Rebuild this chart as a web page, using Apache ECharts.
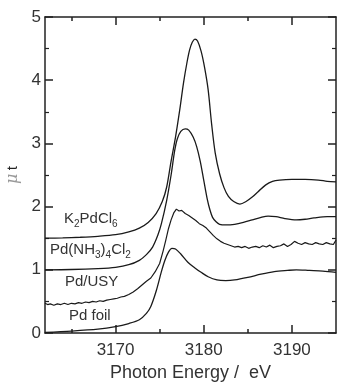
<!DOCTYPE html>
<html>
<head>
<meta charset="utf-8">
<script src="https://cdn.jsdelivr.net/npm/echarts@6/dist/echarts.min.js"></script>
<style>
html,body{margin:0;padding:0;background:#fff;}
#chart{width:337px;height:382px;}
</style>
</head>
<body>
<div id="chart"></div>
<script>
// ---- data (photon energy in eV, absorbance mu*t) ----
const xTitle = 'Photon Energy /  eV';
const xMajorTicks = [3170, 3180, 3190];
const xMinorTicks = [3165, 3175, 3185];

const k2pdcl6 = [
  [3162,1.50],[3164,1.505],[3166,1.515],[3168,1.53],[3170,1.555],[3171.5,1.60],[3172.7,1.66],
  [3173.7,1.75],[3174.6,1.89],[3175.3,2.08],[3175.8,2.31],[3176.3,2.72],[3176.8,3.10],
  [3177.3,3.55],[3177.7,3.95],[3178.1,4.28],[3178.4,4.48],[3178.7,4.60],[3179.0,4.65],
  [3179.3,4.62],[3179.7,4.46],[3180.1,4.20],[3180.5,3.85],[3180.9,3.30],[3181.3,2.85],
  [3181.8,2.52],[3182.3,2.30],[3182.8,2.16],[3183.4,2.08],[3184.1,2.04],[3184.8,2.08],
  [3185.5,2.15],[3186.2,2.24],[3187.0,2.34],[3187.8,2.40],[3188.6,2.42],[3190,2.43],
  [3191.5,2.43],[3193,2.42],[3194,2.40],[3195,2.39]
];

const pdnh3 = [
  [3162,1.00],[3165,1.005],[3168,1.02],[3170,1.04],[3171.5,1.08],[3172.7,1.15],[3173.5,1.24],
  [3174.2,1.36],[3174.8,1.55],[3175.2,1.73],[3175.8,2.10],[3176.3,2.50],[3176.7,2.88],
  [3177.0,3.07],[3177.4,3.19],[3177.9,3.23],[3178.3,3.21],[3178.8,3.10],[3179.2,2.95],
  [3179.6,2.72],[3180.0,2.42],[3180.4,2.12],[3180.7,1.95],[3181.0,1.83],[3181.4,1.76],
  [3181.8,1.72],[3182.5,1.71],[3183.5,1.72],[3184.5,1.75],[3185.5,1.79],[3186.5,1.83],
  [3187.3,1.85],[3188.2,1.84],[3189.2,1.81],[3190.5,1.79],[3191.5,1.80],[3192.5,1.82],
  [3194,1.84],[3195,1.84]
];

const pdusy = [
  [3162.0,0.47],[3162.3,0.45],[3162.6,0.46],[3163.0,0.44],[3163.4,0.46],[3163.8,0.45],
  [3164.2,0.47],[3164.6,0.45],[3165.0,0.47],[3165.4,0.46],[3165.8,0.48],[3166.2,0.47],
  [3166.6,0.49],[3167.0,0.48],[3167.4,0.50],[3167.8,0.49],[3168.2,0.51],[3168.6,0.50],
  [3169.0,0.52],[3169.4,0.53],[3169.8,0.54],[3170.2,0.55],[3170.6,0.57],[3171.0,0.58],
  [3171.5,0.61],[3172.0,0.65],[3172.5,0.70],[3173.0,0.76],[3173.5,0.82],[3174.0,0.87],
  [3174.5,0.97],[3175.0,1.10],[3175.4,1.30],[3175.7,1.47],[3176.0,1.65],[3176.3,1.79],
  [3176.6,1.90],[3176.9,1.96],[3177.2,1.93],[3177.5,1.94],[3177.9,1.89],[3178.3,1.86],
  [3178.7,1.82],[3179.1,1.78],[3179.5,1.73],[3179.9,1.70],[3180.3,1.66],[3180.7,1.60],
  [3181.1,1.54],[3181.5,1.49],[3181.9,1.45],[3182.3,1.42],[3182.7,1.40],[3183.1,1.38],
  [3183.5,1.36],[3183.9,1.37],[3184.3,1.35],[3184.7,1.37],[3185.1,1.34],[3185.5,1.36],
  [3185.9,1.37],[3186.3,1.35],[3186.7,1.38],[3187.1,1.36],[3187.5,1.39],[3187.9,1.35],
  [3188.3,1.37],[3188.7,1.38],[3189.1,1.41],[3189.5,1.37],[3189.9,1.40],[3190.3,1.45],
  [3190.7,1.42],[3191.1,1.40],[3191.5,1.43],[3191.9,1.41],[3192.3,1.40],[3192.7,1.43],
  [3193.1,1.41],[3193.5,1.40],[3193.9,1.43],[3194.3,1.41],[3194.7,1.40],[3195.0,1.47]
];

const pdfoil = [
  [3162,0.01],[3165,0.03],[3168,0.06],[3170,0.10],[3171.5,0.15],[3172.7,0.21],[3173.5,0.31],
  [3174.0,0.42],[3174.6,0.66],[3175.2,0.97],[3175.6,1.15],[3176.0,1.28],[3176.4,1.34],
  [3176.8,1.33],[3177.4,1.25],[3178.2,1.12],[3179.0,1.03],[3179.7,0.96],[3180.5,0.89],
  [3181.5,0.84],[3182.5,0.83],[3183.5,0.84],[3185,0.88],[3186.5,0.93],[3188,0.97],
  [3189.5,0.99],[3190.5,1.00],[3192,0.99],[3193.5,0.98],[3195,0.96]
];

const seriesNames = ['K2PdCl6', 'Pd(NH3)4Cl2', 'Pd/USY', 'Pd foil'];

// ---- chart ----
const chart = echarts.init(document.getElementById('chart'), null, {renderer: 'canvas'});
const FONT = 'Liberation Sans, Arial, Helvetica, sans-serif';
const AX = '#222';
const LINE = '#1a1a1a';
const xMin = 3162, xMax = 3195;

function xAx(pos, ticks, len, showLine, showLabel, extra) {
  return Object.assign({
    type: 'value', min: xMin, max: xMax, position: pos,
    axisLine: {show: showLine, onZero: false, lineStyle: {color: AX, width: 1.5}},
    axisTick: {show: true, inside: true, length: len, customValues: ticks, lineStyle: {color: AX, width: 1.5}},
    axisLabel: {show: showLabel, customValues: ticks, fontSize: 17, color: '#333', margin: 9,
                fontFamily: FONT, formatter: function (v) { return String(v); }},
    splitLine: {show: false}
  }, extra || {});
}
function yAx(pos, showLabel, extra) {
  return Object.assign({
    type: 'value', min: 0, max: 5, interval: 1, position: pos,
    axisLine: {show: true, onZero: false, lineStyle: {color: AX, width: 1.5}},
    axisTick: {show: true, inside: true, length: 8, lineStyle: {color: AX, width: 1.5}},
    minorTick: {show: true, splitNumber: 2, length: 4, lineStyle: {color: AX, width: 1.2}},
    axisLabel: {show: showLabel, fontSize: 17, color: '#333', margin: 4, fontFamily: FONT},
    splitLine: {show: false}
  }, extra || {});
}

function lbl(text, x, y) {
  return {
    type: 'text', x: x, y: y,
    style: {
      text: text, fill: '#333', font: '15px ' + FONT, textVerticalAlign: 'middle',
      rich: {
        n: {fontSize: 15, fontFamily: FONT, color: '#333', lineHeight: 20, verticalAlign: 'middle'},
        s: {fontSize: 10, fontFamily: FONT, color: '#333', lineHeight: 8, verticalAlign: 'bottom'}
      }
    }
  };
}

const option = {
  backgroundColor: '#fff',
  animation: false,
  grid: {left: 45, right: 1, top: 17, bottom: 49, containLabel: false, outerBoundsMode: 'none'},
  xAxis: [
    xAx('bottom', xMajorTicks, 8, true, true, {
      name: xTitle, nameLocation: 'middle', nameGap: 23,
      nameTextStyle: {fontSize: 18, color: '#333', fontFamily: FONT}
    }),
    xAx('bottom', xMinorTicks, 4, false, false),
    xAx('top', xMajorTicks, 8, true, false),
    xAx('top', xMinorTicks, 4, false, false)
  ],
  yAxis: [
    yAx('left', true, {
      name: '{m|μ} {t|t}', nameLocation: 'middle', nameGap: 22, nameRotate: 90,
      nameTextStyle: {
        rich: {
          m: {fontSize: 16, fontStyle: 'italic', color: '#999', fontFamily: 'DejaVu Serif, serif'},
          t: {fontSize: 15, color: '#222', fontFamily: FONT}
        }
      }
    }),
    yAx('right', false)
  ],
  graphic: [
    lbl('{n|K}{s|2}{n|PdCl}{s|6}', 64, 219),
    lbl('{n|Pd(NH}{s|3}{n|)}{s|4}{n|Cl}{s|2}', 50, 250),
    lbl('{n|Pd/USY}', 65, 282),
    lbl('{n|Pd foil}', 69, 316)
  ],
  series: [
    {name: seriesNames[0], type: 'line', data: k2pdcl6, smooth: 0.3, showSymbol: false,
     lineStyle: {color: LINE, width: 1.3}},
    {name: seriesNames[1], type: 'line', data: pdnh3, smooth: 0.3, showSymbol: false,
     lineStyle: {color: LINE, width: 1.3}},
    {name: seriesNames[2], type: 'line', data: pdusy, smooth: false, showSymbol: false,
     lineStyle: {color: LINE, width: 1.2}},
    {name: seriesNames[3], type: 'line', data: pdfoil, smooth: 0.3, showSymbol: false,
     lineStyle: {color: LINE, width: 1.3}}
  ]
};
chart.setOption(option);
</script>
</body>
</html>
